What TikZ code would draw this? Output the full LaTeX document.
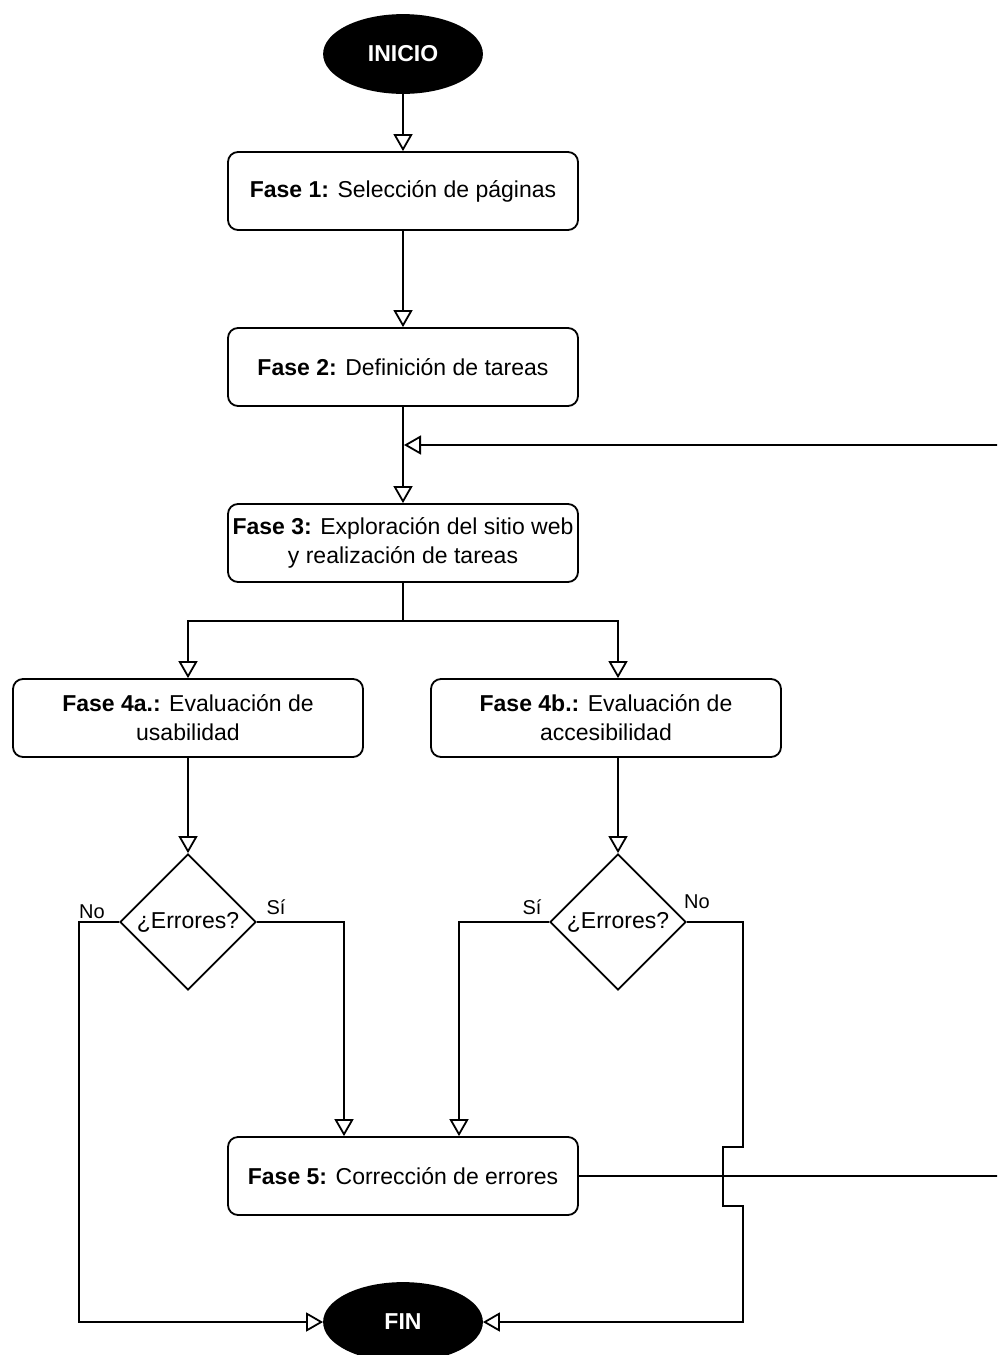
\documentclass[tikz,border=0pt]{standalone}
\usepackage{fontspec}
\setmainfont{Liberation Sans}
\usetikzlibrary{shapes.geometric,arrows.meta}

\begin{document}
\begin{tikzpicture}[x=1pt, y=-1pt, line width=1.8pt, node distance={176pt},
		>={Triangle[open, length=17pt, width=19pt]},
		main/.style = {draw, rounded corners=10pt, minimum width=350pt, minimum height=78pt, align=center, inner xsep=2pt, font=\fontsize{23}{29}\selectfont},
		term/.style = {draw, ellipse, fill=black, minimum width=158pt, minimum height=78pt, inner sep=0pt, text=white, font=\fontsize{23}{29}\selectfont\bfseries},
		cond/.style = {draw, diamond, minimum width=136pt, minimum height=136pt, inner sep=0pt, font=\fontsize{23}{29}\selectfont},
		lbl/.style = {font=\fontsize{20}{24}\selectfont}]
				\clip (0,0) rectangle (997,1355);

				\node[term] (0) at (403,54) {INICIO};
				\node[main] (1) at (403,191) {\textbf{Fase 1:} Selección de páginas};
				\node[main] (2) [below of=1]{\textbf{Fase 2:} Definición de tareas};
				\node[main] (3) [below of=2]{\textbf{Fase 3:} Exploración del sitio web\\y realización de tareas};

				\node[main] (4) at (188,718) {\textbf{Fase 4a.:} Evaluación de\\usabilidad};
				\node[main] (5) at (606,718) {\textbf{Fase 4b.:} Evaluación de\\accesibilidad};

				\node[cond] (6) at (188,922) {¿Errores?};
				\node[cond] (7) at (618,922) {¿Errores?};

				\node[main] (8) at (403,1176) {\textbf{Fase 5:} Corrección de errores};
				\node[term] (9) at (403,1322) {FIN};

				\node[lbl] (no1) at (92,912) {No};
				\node[lbl] (si1) at (276,907) {Sí};
				\node[lbl] (si2) at (532,907) {Sí};
				\node[lbl] (no2) at (697,902) {No};

				\coordinate (s) at (403,621);
				\coordinate (j) at (404,445);
				\coordinate (r) at (1010,445);
				\coordinate (n1) at (79,922);
				\coordinate (y1) at (344,922);
				\coordinate (y2) at (459,922);
				\coordinate (n2) at (743,922);

				\draw[->] (0) -- (1);
				\draw[->] (1) -- (2);
				\draw[->] (2) -- (3);
				\draw[->] (8) -| (r) -- (j);

				\draw (3) -- (s);
				\draw[->] (s) -| (4);
				\draw[->] (s) -| (5.north -| 7.north);

				\draw[->] (4) -- (6);
				\draw[->] (5.south -| 7.north) -- (7);

				\draw[->] (6.west) -- (n1) |- (9);
				\draw[->] (6.east) -- (y1) -- (y1 |- 8.north);
				\draw[->] (7.west) -- (y2) -- (y2 |- 8.north);
				\draw[->] (7.east) -- (n2) -- ++(0,225) -- ++(-20,0) -- ++(0,59) -- ++(20,0) |- (9);

			\end{tikzpicture}
\end{document}
